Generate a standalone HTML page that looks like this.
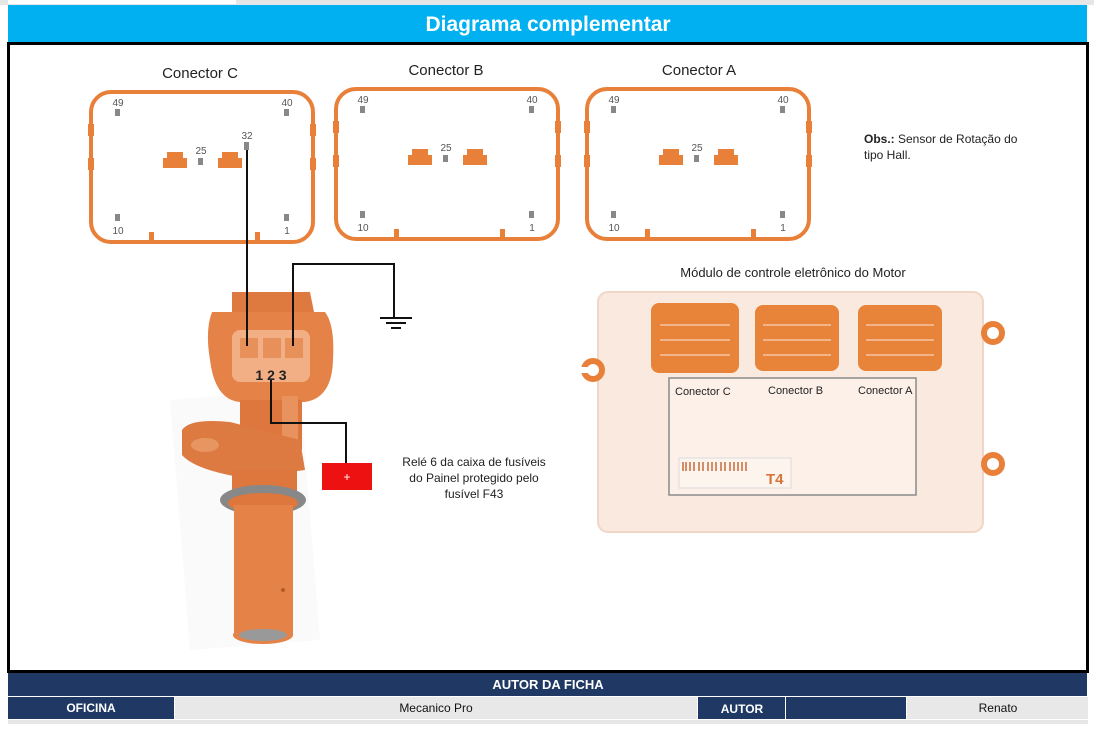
<!DOCTYPE html>
<html><head><meta charset="utf-8"><style>
html,body{margin:0;padding:0;background:#fff;}
body{width:1094px;height:732px;overflow:hidden;position:relative;font-family:"Liberation Sans",sans-serif;}
</style></head><body>
<svg width="1094" height="732" viewBox="0 0 1094 732" xmlns="http://www.w3.org/2000/svg" font-family="Liberation Sans, sans-serif">
<defs>
<g id="conn">
  <rect x="0" y="0" width="222" height="150" rx="20" fill="#fff" stroke="#E8803A" stroke-width="4"/>
  <rect x="-3" y="32" width="6" height="12" fill="#E8803A"/>
  <rect x="-3" y="66" width="6" height="12" fill="#E8803A"/>
  <rect x="219" y="32" width="6" height="12" fill="#E8803A"/>
  <rect x="219" y="66" width="6" height="12" fill="#E8803A"/>
  <rect x="58" y="140" width="5" height="10" fill="#E8803A"/>
  <rect x="164" y="140" width="5" height="10" fill="#E8803A"/>
  <rect x="76" y="60" width="16" height="8" fill="#E8803A"/>
  <rect x="72" y="66" width="24" height="10" fill="#E8803A"/>
  <rect x="131" y="60" width="16" height="8" fill="#E8803A"/>
  <rect x="127" y="66" width="24" height="10" fill="#E8803A"/>
  <rect x="107" y="66" width="5" height="7" fill="#888"/>
  <text x="110" y="62" font-size="10" fill="#555" text-anchor="middle">25</text>
  <rect x="24" y="17" width="5" height="7" fill="#888"/>
  <text x="27" y="14" font-size="10" fill="#555" text-anchor="middle">49</text>
  <rect x="193" y="17" width="5" height="7" fill="#888"/>
  <text x="196" y="14" font-size="10" fill="#555" text-anchor="middle">40</text>
  <rect x="24" y="122" width="5" height="7" fill="#888"/>
  <text x="27" y="142" font-size="10" fill="#555" text-anchor="middle">10</text>
  <rect x="193" y="122" width="5" height="7" fill="#888"/>
  <text x="196" y="142" font-size="10" fill="#555" text-anchor="middle">1</text>
</g>
</defs>
<rect x="0" y="0" width="1094" height="5" fill="#e6e6e6"/>
<rect x="8" y="0" width="228" height="4" fill="#fff"/>
<rect x="8" y="5" width="1079" height="37" fill="#00B0F0"/>
<text x="548" y="31" font-size="21" font-weight="bold" fill="#fff" text-anchor="middle">Diagrama complementar</text>
<rect x="8.5" y="43.5" width="1079" height="628" fill="#fff" stroke="#000" stroke-width="3"/>

<text x="200" y="78" font-size="15" fill="#222" text-anchor="middle">Conector C</text>
<text x="446" y="75" font-size="15" fill="#222" text-anchor="middle">Conector B</text>
<text x="699" y="75" font-size="15" fill="#222" text-anchor="middle">Conector A</text>
<use href="#conn" x="91" y="92"/>
<use href="#conn" x="336" y="89"/>
<use href="#conn" x="587" y="89"/>
<rect x="244" y="142" width="5" height="8" fill="#888"/>
<text x="247" y="139" font-size="10" fill="#555" text-anchor="middle">32</text>

<text x="864" y="143" font-size="12" fill="#222"><tspan font-weight="bold">Obs.:</tspan> Sensor de Rotação do</text>
<text x="864" y="159" font-size="12" fill="#222">tipo Hall.</text>
<text x="793" y="277" font-size="13" fill="#222" text-anchor="middle">Módulo de controle eletrônico do Motor</text>

<!-- sensor -->
<polygon points="170,400 300,390 320,640 190,650" fill="#fafafa"/>
<path d="M232,292 h78 l4,20 h-82 z" fill="#DE7A40"/>
<path d="M212,312 Q205,330 210,360 Q215,400 240,402 L305,402 Q332,398 333,360 Q335,325 325,312 Z" fill="#E58248"/>
<rect x="232" y="330" width="78" height="52" rx="8" fill="#F2AE84"/>
<rect x="240" y="338" width="18" height="20" fill="#E8905A"/>
<rect x="263" y="338" width="18" height="20" fill="#E8905A"/>
<rect x="285" y="338" width="18" height="20" fill="#E8905A"/>
<text x="271" y="380" font-size="14" font-weight="bold" fill="#222" text-anchor="middle">1 2 3</text>
<rect x="240" y="400" width="62" height="50" fill="#DD773D"/>
<rect x="282" y="396" width="16" height="50" fill="#E8935E"/>
<path d="M182,430 Q190,418 230,422 L300,440 L305,470 L245,478 Q195,470 182,455 Z" fill="#DD7A42"/>
<ellipse cx="205" cy="445" rx="14" ry="7" fill="#E79661"/>
<rect x="232" y="470" width="65" height="30" fill="#DD773D"/>
<ellipse cx="263" cy="500" rx="43" ry="15" fill="#888"/>
<ellipse cx="263" cy="503" rx="35" ry="10" fill="#DD773D"/>
<rect x="234" y="505" width="59" height="130" fill="#E58248"/>
<ellipse cx="263" cy="635" rx="30" ry="9" fill="#E58248"/>
<ellipse cx="263" cy="635" rx="24" ry="6" fill="#999"/>
<circle cx="283" cy="590" r="2" fill="#b55a25"/>

<!-- wires -->
<g fill="none" stroke="#111" stroke-width="2">
<path d="M247,150 V346"/>
<path d="M293,346 V264 H394 V318"/>
<path d="M380,318 H412 M386,323 H406 M391,328 H401"/>
<path d="M271,380 V423 H346 V463"/>
</g>
<rect x="322" y="463" width="50" height="27" fill="#EE1111"/>
<text x="347" y="481" font-size="12" fill="#fff" text-anchor="middle">+</text>
<text x="474" y="466" font-size="12" fill="#222" text-anchor="middle">Relé 6 da caixa de fusíveis</text>
<text x="474" y="482" font-size="12" fill="#222" text-anchor="middle">do Painel protegido pelo</text>
<text x="474" y="498" font-size="12" fill="#222" text-anchor="middle">fusível F43</text>

<!-- ECU -->
<rect x="598" y="292" width="385" height="240" rx="10" fill="#FAE9DE" stroke="#EFD6C6" stroke-width="2"/>
<circle cx="593" cy="370" r="12" fill="#E8803A"/><circle cx="593" cy="370" r="6" fill="#fff"/><rect x="578" y="367" width="15" height="6" fill="#fff"/>
<circle cx="993" cy="333" r="12" fill="#E8803A"/><circle cx="993" cy="333" r="6" fill="#fff"/>
<circle cx="993" cy="464" r="12" fill="#E8803A"/><circle cx="993" cy="464" r="6" fill="#fff"/>
<rect x="651" y="303" width="88" height="70" rx="8" fill="#E8833A"/>
<rect x="755" y="305" width="84" height="66" rx="8" fill="#E8833A"/>
<rect x="858" y="305" width="84" height="66" rx="8" fill="#E8833A"/>
<g stroke="#F3B48A" stroke-width="2">
<path d="M660,325 h70 M660,340 h70 M660,355 h70"/>
<path d="M763,325 h68 M763,340 h68 M763,355 h68"/>
<path d="M866,325 h68 M866,340 h68 M866,355 h68"/>
</g>
<rect x="669" y="378" width="247" height="117" fill="#FCF0E8" stroke="#8a8a8a" stroke-width="1.5"/>
<text x="675" y="395" font-size="11" fill="#222">Conector C</text>
<text x="768" y="394" font-size="11" fill="#222">Conector B</text>
<text x="858" y="394" font-size="11" fill="#222">Conector A</text>
<rect x="679" y="458" width="112" height="30" fill="#FDF4EE" stroke="#ddd"/>
<g stroke="#C96A3A" stroke-width="1.5"><path d="M683,462 v9 M686,462 v9 M690,462 v9 M694,462 v9 M699,462 v9 M703,462 v9 M708,462 v9 M712,462 v9 M716,462 v9 M721,462 v9 M725,462 v9 M730,462 v9 M734,462 v9 M738,462 v9 M742,462 v9 M746,462 v9"/></g>
<text x="766" y="484" font-size="15" font-weight="bold" fill="#D8743A">T4</text>

<!-- footer -->
<rect x="8" y="673" width="1079" height="23" fill="#1F3864"/>
<text x="548" y="689" font-size="13" font-weight="bold" fill="#fff" text-anchor="middle">AUTOR DA FICHA</text>
<rect x="8" y="697" width="166" height="22" fill="#1F3864"/>
<text x="91" y="712" font-size="12" font-weight="bold" fill="#fff" text-anchor="middle">OFICINA</text>
<rect x="175" y="697" width="522" height="22" fill="#E8E8E8"/>
<text x="436" y="712" font-size="12" fill="#111" text-anchor="middle">Mecanico Pro</text>
<rect x="698" y="697" width="208" height="22" fill="#1F3864"/>
<line x1="785.5" y1="697" x2="785.5" y2="719" stroke="#fff" stroke-width="1"/>
<text x="742" y="713" font-size="12" font-weight="bold" fill="#fff" text-anchor="middle">AUTOR</text>
<rect x="907" y="697" width="181" height="22" fill="#E8E8E8"/>
<text x="998" y="712" font-size="12" fill="#111" text-anchor="middle">Renato</text>
<rect x="8" y="720" width="1080" height="4" fill="#e6e6e6"/>
</svg>
</body></html>
